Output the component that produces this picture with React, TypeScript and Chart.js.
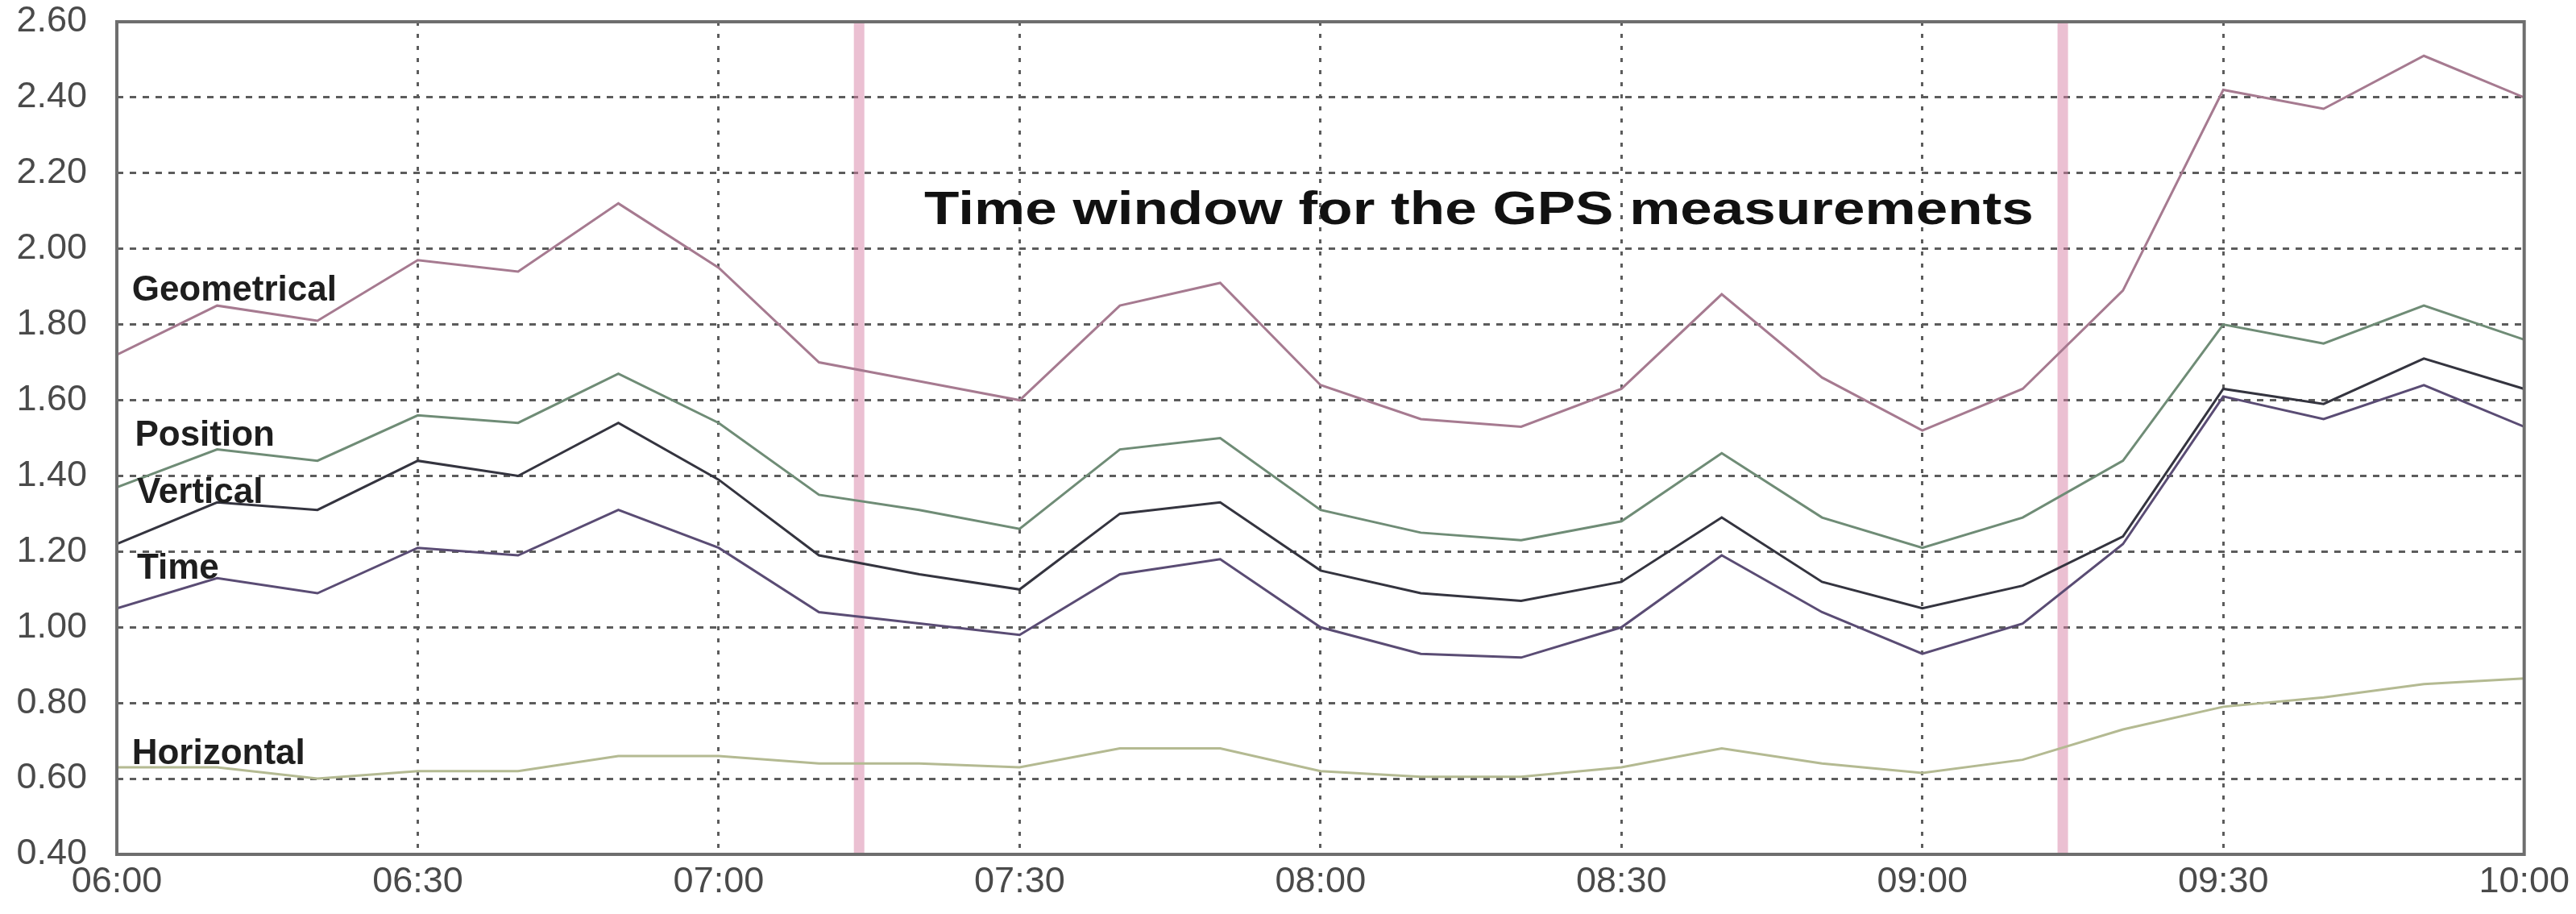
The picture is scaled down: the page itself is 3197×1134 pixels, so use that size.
import React, { useEffect, useRef } from "react";
import { Chart, registerables } from "chart.js";

Chart.register(...registerables);

// ---- data ----
const times = [
  "06:00", "06:10", "06:20", "06:30", "06:40", "06:50",
  "07:00", "07:10", "07:20", "07:30", "07:40", "07:50",
  "08:00", "08:10", "08:20", "08:30", "08:40", "08:50",
  "09:00", "09:10", "09:20", "09:30", "09:40", "09:50", "10:00",
];
const geometrical = [1.72, 1.85, 1.81, 1.97, 1.94, 2.12, 1.95, 1.70, 1.65, 1.60, 1.85, 1.91, 1.64, 1.55, 1.53, 1.63, 1.88, 1.66, 1.52, 1.63, 1.89, 2.42, 2.37, 2.51, 2.40];
const position = [1.37, 1.47, 1.44, 1.56, 1.54, 1.67, 1.54, 1.35, 1.31, 1.26, 1.47, 1.50, 1.31, 1.25, 1.23, 1.28, 1.46, 1.29, 1.21, 1.29, 1.44, 1.80, 1.75, 1.85, 1.76];
const vertical = [1.22, 1.33, 1.31, 1.44, 1.40, 1.54, 1.39, 1.19, 1.14, 1.10, 1.30, 1.33, 1.15, 1.09, 1.07, 1.12, 1.29, 1.12, 1.05, 1.11, 1.24, 1.63, 1.59, 1.71, 1.63];
const timeDop = [1.05, 1.13, 1.09, 1.21, 1.19, 1.31, 1.21, 1.04, 1.01, 0.98, 1.14, 1.18, 1.00, 0.93, 0.92, 1.00, 1.19, 1.04, 0.93, 1.01, 1.22, 1.61, 1.55, 1.64, 1.53];
const horizontal = [0.63, 0.63, 0.60, 0.62, 0.62, 0.66, 0.66, 0.64, 0.64, 0.63, 0.68, 0.68, 0.62, 0.605, 0.605, 0.63, 0.68, 0.64, 0.615, 0.65, 0.73, 0.79, 0.815, 0.85, 0.865];

const seriesNames = ["Geometrical", "Position", "Vertical", "Time", "Horizontal"];
const seriesValues = [geometrical, position, vertical, timeDop, horizontal];
const seriesColors = ["#a67a90", "#6f8c76", "#34343f", "#5a4c74", "#b4ba92"];

const windowMarkers = ["07:14", "09:14"];
const titleText = "Time window for the GPS measurements";

const yMin = 0.4;
const yMax = 2.6;
const yStep = 0.2;
const xStart = "06:00";
const xEnd = "10:00";
const xStep = 30;

// label anchors (minutes since start, value)
const labelAnchors = [
  { x: 1.5, y: 1.89 },
  { x: 1.8, y: 1.505 },
  { x: 2.0, y: 1.355 },
  { x: 2.0, y: 1.154 },
  { x: 1.5, y: 0.665 },
];
const titleAnchor = { x: 80.5, y: 2.10 };

function toMin(t: string): number {
  const [h, m] = t.split(":").map(Number);
  return h * 60 + m;
}
function fmt(v: number): string {
  const h = Math.floor(v / 60);
  const m = Math.round(v - h * 60);
  return String(h).padStart(2, "0") + ":" + String(m).padStart(2, "0");
}

const t0 = toMin(xStart);

const annotationPlugin = {
  id: "gpsAnnotations",
  afterDatasetsDraw(chart: any) {
    const { ctx, chartArea, scales } = chart;
    const xs = scales.x;
    const ys = scales.y;
    ctx.save();
    // series labels
    ctx.fillStyle = "#1e1e1e";
    ctx.font = "bold 44px 'Liberation Sans', Arial, sans-serif";
    ctx.textBaseline = "middle";
    ctx.textAlign = "left";
    seriesNames.forEach((name, i) => {
      const a = labelAnchors[i];
      ctx.fillText(name, xs.getPixelForValue(t0 + a.x), ys.getPixelForValue(a.y));
    });
    // title text (horizontally stretched)
    const tx = xs.getPixelForValue(t0 + titleAnchor.x);
    const ty = ys.getPixelForValue(titleAnchor.y);
    ctx.font = "bold 58px 'Liberation Sans', Arial, sans-serif";
    ctx.translate(tx, ty);
    ctx.scale(1.225, 1);
    ctx.fillStyle = "#111";
    ctx.fillText(titleText, 0, 0);
    ctx.restore();
    // frame
    ctx.save();
    ctx.strokeStyle = "#6e6e6e";
    ctx.lineWidth = 4;
    ctx.setLineDash([]);
    ctx.strokeRect(chartArea.left, chartArea.top, chartArea.right - chartArea.left, chartArea.bottom - chartArea.top);
    ctx.restore();
  },
};

export default function App() {
  const ref = useRef<HTMLCanvasElement | null>(null);
  useEffect(() => {
    document.body.style.margin = "0";
    const canvas = ref.current;
    if (!canvas) return;
    const lineSets = seriesNames.map((name, i) => ({
      label: name,
      data: times.map((t, j) => ({ x: toMin(t), y: seriesValues[i][j] })),
      borderColor: seriesColors[i],
      borderWidth: 3,
      pointRadius: 0,
      tension: 0,
      fill: false,
      order: 1,
    }));
    const markerSets = windowMarkers.map((t, i) => ({
      label: "window" + i,
      data: [
        { x: toMin(t), y: yMin },
        { x: toMin(t), y: yMax },
      ],
      borderColor: "rgba(215,130,165,0.5)",
      borderWidth: 13,
      pointRadius: 0,
      fill: false,
      order: 5,
    }));
    const chart = new Chart(canvas, {
      type: "line",
      data: { datasets: [...lineSets, ...markerSets] as any },
      options: {
        animation: false,
        responsive: false,
        maintainAspectRatio: false,
        devicePixelRatio: 1,
        layout: { padding: { top: 0, right: 0, bottom: 0, left: 0 } },
        plugins: { legend: { display: false }, tooltip: { enabled: false } },
        scales: {
          x: {
            type: "linear",
            min: toMin(xStart),
            max: toMin(xEnd),
            ticks: {
              stepSize: xStep,
              callback: (v: any) => fmt(Number(v)),
              color: "#4a4a4a",
              font: { family: "'Liberation Sans', Arial, sans-serif", size: 45 },
              padding: 8,
              maxRotation: 0,
              autoSkip: false,
            },
            grid: { color: "#5c5c5c", lineWidth: 3, drawTicks: false },
            border: { display: false, dash: [5, 10] },
            afterFit: (s: any) => {
              s.height = 74;
            },
          },
          y: {
            type: "linear",
            min: yMin,
            max: yMax,
            ticks: {
              stepSize: yStep,
              callback: (v: any) => Number(v).toFixed(2),
              color: "#4a4a4a",
              font: { family: "'Liberation Sans', Arial, sans-serif", size: 45 },
              padding: 0,
            },
            grid: {
              color: "#5c5c5c",
              lineWidth: 3,
              drawTicks: true,
              tickLength: 37,
              tickColor: "rgba(0,0,0,0)",
            },
            border: { display: false, dash: [8, 8] },
            afterFit: (s: any) => {
              s.width = 145;
            },
          },
        },
      },
      plugins: [annotationPlugin],
    });
    return () => chart.destroy();
  }, []);
  return (
    <div style={{ width: 3197, height: 1134, background: "#fff" }}>
      <canvas ref={ref} width={3197} height={1134} style={{ width: 3197, height: 1134, display: "block" }} />
    </div>
  );
}
